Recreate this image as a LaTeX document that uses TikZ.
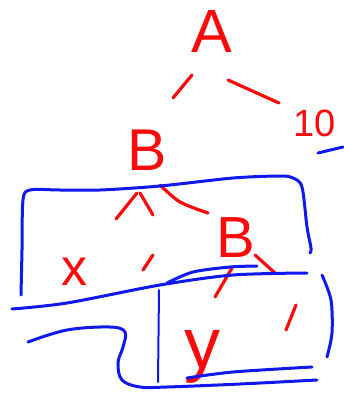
\documentclass[tikz,border=0pt]{standalone}
\usepackage{fontspec}
\setmainfont{Liberation Sans}
\definecolor{penred}{RGB}{250,10,10}
\definecolor{penblue}{RGB}{15,25,235}
\tikzset{
  redstroke/.style={draw=penred,line width=3.2pt,line cap=round,line join=round},
  bluestroke/.style={draw=penblue,line width=3pt,line cap=round,line join=round},
  bluethin/.style={draw=penblue,line width=2pt,line cap=round},
  letter/.style={text=penred,inner sep=0pt,anchor=base}
}
\begin{document}
\begin{tikzpicture}[x=1pt,y=-1pt]
\useasboundingbox (0,0) rectangle (344,402);
% letters
\node[letter,font=\fontsize{61}{61}\selectfont] (A) at (212,52) {A};
\node[letter,font=\fontsize{59}{59}\selectfont] (B1) at (147,170) {B};
\node[letter,font=\fontsize{38}{38}\selectfont] (ten) at (315,136) {10};
\node[letter,font=\fontsize{52}{52}\selectfont] (x) at (74,285) {x};
\node[letter,font=\fontsize{58}{58}\selectfont] (B2) at (236,257) {B};
\node[letter,font=\fontsize{72}{72}\selectfont] (y) at (202,368) {y};
% red strokes
\draw[redstroke] (192,75) -- (173,98);
\draw[redstroke] (228,80) -- (279,103);
\draw[redstroke] (116,219) -- (137,193);
\draw[redstroke] (140,193) -- (153,215);
\draw[redstroke] plot[smooth] coordinates {(160,185)(180,202)(208,213)};
\draw[redstroke] (143,270) -- (153,255);
\draw[redstroke] (232,268) -- (215,297);
\draw[redstroke] (255,255) -- (275,273);
\draw[redstroke] (296,305) -- (286,330);
% blue strokes
\draw[bluestroke] (318,153) -- (343,147);
\draw[bluestroke] plot[smooth,tension=0.5] coordinates {(21,295)(22,250)(23,200)(30,190)(60,190)(100,190)(160,186)(233,178)(280,176)(293,178)(302,187)(307,227)(311,248)(310,253)};
\draw[bluestroke] plot[smooth] coordinates {(12,309)(67,303)(160,285)(233,275)(307,273)};
\draw[bluestroke] plot[smooth] coordinates {(167,283)(193,272)(230,267)(257,266)};
\draw[bluestroke] plot[smooth] coordinates {(322,275)(331,300)(332,333)(327,357)};
\draw[bluestroke] plot[smooth,tension=0.6] coordinates {(28,342)(67,330)(110,327)(125,332)(123,347)(118,363)(122,380)(140,387)(167,387)(240,384)(317,380)};
\draw[bluethin] (159,290) -- (158,382);
\draw[bluestroke] plot[smooth] coordinates {(187,378)(233,372)(312,367)};
\end{tikzpicture}
\end{document}
